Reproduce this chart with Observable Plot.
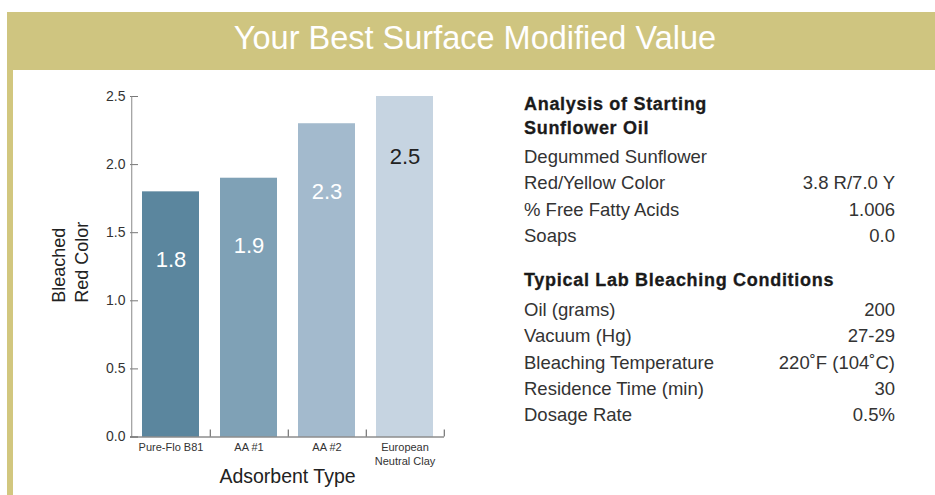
<!DOCTYPE html>
<html>
<head>
<meta charset="utf-8">
<script src="https://cdn.jsdelivr.net/npm/d3@7"></script>
<script src="https://cdn.jsdelivr.net/npm/@observablehq/plot@0.6"></script>
<style>
  html, body { margin: 0; padding: 0; background: #fff; }
  body { width: 935px; height: 495px; position: relative; overflow: hidden; font-family: "Liberation Sans", Arial, Helvetica, sans-serif; }
  #banner { position: absolute; left: 7px; top: 12px; width: 928px; height: 58px; background: #cfc580; color: #fff;
            font-size: 32.5px; line-height: 52px; text-align: center; padding-left: 8px; box-sizing: border-box; }
  #sidebar { position: absolute; left: 7px; top: 70px; width: 6px; height: 425px; background: #d2c77f; }
  #chart { position: absolute; left: 0; top: 70px; }
  .panel { position: absolute; left: 524px; width: 371px; color: #333; font-size: 18.5px; }
  .panel .head { font-weight: bold; color: #1a1a1a; font-size: 18px; letter-spacing: 0.7px; -webkit-text-stroke: 0.3px #1a1a1a; }
  .row { display: flex; justify-content: space-between; white-space: nowrap; }
</style>
</head>
<body>
<div id="banner">Your Best Surface Modified Value</div>
<div id="sidebar"></div>
<div id="chart"></div>
<div class="panel" id="h1" style="top:92px; line-height:24px;"><div class="head">Analysis of Starting<br>Sunflower Oil</div></div>
<div class="panel" id="t1" style="top:144px; line-height:26.3px;"></div>
<div class="panel" id="h2" style="top:267px; line-height:26px;"><div class="head">Typical Lab Bleaching Conditions</div></div>
<div class="panel" id="t2" style="top:297px; line-height:26.25px;"></div>
<script>
// ---- data ----
const categories = ["Pure-Flo B81", "AA #1", "AA #2", "European Neutral Clay"];
const tickLabels = ["Pure-Flo B81", "AA #1", "AA #2", "European\nNeutral Clay"];
const values = [1.8, 1.9, 2.3, 2.5];
const yTicks = [0, 0.5, 1.0, 1.5, 2.0, 2.5];
const xTitle = "Adsorbent Type";
const yTitle = "Bleached\nRed Color";

const analysisLabels = ["Degummed Sunflower", "Red/Yellow Color", "% Free Fatty Acids", "Soaps"];
const analysisValues = ["", "3.8 R/7.0 Y", "1.006", "0.0"];
const conditionLabels = ["Oil (grams)", "Vacuum (Hg)", "Bleaching Temperature", "Residence Time (min)", "Dosage Rate"];
const conditionValues = ["200", "27-29", "220˚F (104˚C)", "30", "0.5%"];

// ---- styles ----
const barColors = ["#5b869e", "#7fa1b6", "#a3bacd", "#c6d4e1"];
const labelInk = ["#ffffff", "#ffffff", "#ffffff", "#222222"];
const axisColor = "#777";

const rows = categories.map((c, i) => ({category: c, value: values[i]}));

const W = 470, H = 425, ML = 130, MR = 26, MT = 26, MB = 58.5;
const frameW = W - ML - MR, frameH = H - MT - MB;
const step = frameW / categories.length;

const chart = Plot.plot({
  width: W, height: H,
  marginLeft: ML, marginRight: MR, marginTop: MT, marginBottom: MB,
  style: {fontFamily: "'Liberation Sans', Arial, Helvetica, sans-serif", color: "#333", background: "transparent", overflow: "visible"},
  x: {domain: categories, paddingInner: 0.27, paddingOuter: 0.135, label: null},
  y: {domain: [0, 2.5], label: null},
  color: {domain: categories, range: barColors},
  marks: [
    Plot.barY(rows, {x: "category", y: "value", fill: "category"}),
    Plot.text(rows, {filter: (d, i) => labelInk[i] === "#ffffff", x: "category", y: "value", text: d => d.value.toFixed(1), dy: 68, fill: "#ffffff", fontSize: 22}),
    Plot.text(rows, {filter: (d, i) => labelInk[i] !== "#ffffff", x: "category", y: "value", text: d => d.value.toFixed(1), dy: 60, fill: "#222222", fontSize: 22}),
    Plot.axisY(yTicks, {tickSize: 0, tickPadding: 5, tickFormat: d => d.toFixed(1), fontSize: 14, fill: "#333"}),
    Plot.tickY(yTicks, {y: d => d, insetRight: frameW - 8, stroke: axisColor}),
    Plot.axisX({tickSize: 0, tickPadding: 4, tickFormat: d => tickLabels[categories.indexOf(d)], fontSize: 11, lineHeight: 1.25, fill: "#333"}),
    Plot.tickX(categories, {x: d => d, dx: step / 2, insetTop: frameH - 7, stroke: "#555"}),
    Plot.tickX([categories[0]], {x: d => d, dx: -step / 2, stroke: "#888"}),
    Plot.ruleY([0], {stroke: "#555"}),
    Plot.text([xTitle], {frameAnchor: "bottom", lineAnchor: "middle", dy: 40, fontSize: 19.5, fill: "#222"}),
    Plot.text([yTitle], {frameAnchor: "left", lineAnchor: "middle", rotate: -90, textAnchor: "start", dx: -61.5, dy: 36, fontSize: 18, lineHeight: 1.28, fill: "#222"})
  ]
});
document.getElementById("chart").appendChild(chart);

function fillTable(id, labels, vals) {
  const el = document.getElementById(id);
  labels.forEach((l, i) => {
    const r = document.createElement("div");
    r.className = "row";
    const a = document.createElement("span"); a.textContent = l;
    const b = document.createElement("span"); b.textContent = vals[i];
    r.appendChild(a); r.appendChild(b);
    el.appendChild(r);
  });
}
fillTable("t1", analysisLabels, analysisValues);
fillTable("t2", conditionLabels, conditionValues);
</script>
</body>
</html>
